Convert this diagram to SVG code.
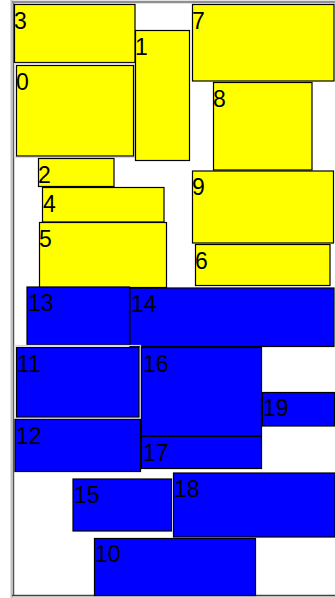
<svg xmlns="http://www.w3.org/2000/svg" width="335" height="598" viewBox="0 0 335 598">
<style>
.y{fill:#ffff00;stroke:#000;stroke-width:1.2}
.b{fill:#0000ff;stroke:#000;stroke-width:1.2}
.h{fill:none;stroke:#d8d8d8;stroke-width:1.2}
text{font-family:"Liberation Sans",Arial,sans-serif;font-size:23px;fill:#000}
</style>
<rect x="0" y="0" width="335" height="598" fill="#fff"/>
<g id="frame">
<line x1="11.5" y1="0" x2="11.5" y2="598" stroke="#c0c0c0" stroke-width="2"/>
<line x1="13.5" y1="2" x2="13.5" y2="596" stroke="#555" stroke-width="1.5"/>
<line x1="12" y1="2" x2="335" y2="2" stroke="#909090" stroke-width="2.5"/>
<line x1="12" y1="595.5" x2="335" y2="595.5" stroke="#444" stroke-width="1.5"/>
<line x1="12" y1="597" x2="335" y2="597" stroke="#b0b0b0" stroke-width="1.2"/>
</g>
<g id="connectors"></g>
<g id="n3"><rect class="y" x="14.5" y="4.5" width="120.5" height="58" stroke-width="2"/><text x="14" y="29">3</text></g>
<g id="n0"><rect class="h" x="14.5" y="63.5" width="120" height="94"/><rect class="y" x="16.5" y="65.5" width="117" height="90.5"/><text x="16" y="90">0</text></g>
<g id="n1"><rect class="y" x="135.5" y="30.5" width="54" height="130"/><text x="135" y="55">1</text></g>
<g id="n7"><rect class="y" x="192.5" y="4.5" width="141.5" height="76.5"/><text x="192" y="29">7</text></g>
<g id="n8"><rect class="y" x="213.5" y="82.5" width="98.5" height="87.5"/><text x="213" y="107">8</text></g>
<g id="n9"><rect class="y" x="192.5" y="171" width="141" height="72"/><text x="192" y="195">9</text></g>
<g id="n6"><rect class="y" x="195.5" y="244.5" width="134.5" height="41"/><text x="195" y="269">6</text></g>
<g id="n2"><rect class="y" x="38.5" y="158.5" width="75.5" height="28"/><text x="38" y="183">2</text></g>
<g id="n4"><rect class="y" x="42.5" y="187.5" width="121.5" height="34.5"/><text x="43" y="212">4</text></g>
<g id="n5"><rect class="y" x="39.5" y="222.5" width="127" height="65"/><text x="39" y="247">5</text></g>
<g id="n13"><rect class="b" x="27" y="287" width="102.5" height="58"/><text x="28" y="311">13</text></g>
<g id="n14"><rect class="b" x="130" y="288" width="204" height="58.5" stroke-width="1.6"/><text x="131" y="312">14</text></g>
<g id="n11"><rect class="h" x="14.5" y="345.5" width="126" height="73"/><rect class="b" x="16.5" y="347.5" width="122.5" height="69.5"/><text x="17" y="372">11</text></g>
<g id="n12"><rect class="b" x="15" y="419.5" width="125.5" height="52"/><text x="16" y="444">12</text></g>
<g id="n16"><rect class="b" x="141.5" y="347.5" width="120" height="88.5"/><text x="143" y="372">16</text></g>
<g id="n17"><rect class="b" x="141.5" y="436.5" width="120" height="32"/><text x="143" y="461">17</text></g>
<g id="n19"><rect class="b" x="262.5" y="392.5" width="72" height="33.5"/><text x="263" y="416">19</text></g>
<g id="n15"><rect class="b" x="73" y="479" width="98.5" height="52"/><text x="74" y="503">15</text></g>
<g id="n18"><rect class="b" x="173.5" y="473" width="161.5" height="64"/><text x="174" y="497">18</text></g>
<g id="n10"><rect class="b" x="94.5" y="538.5" width="161" height="57"/><text x="95" y="562">10</text></g>
</svg>
